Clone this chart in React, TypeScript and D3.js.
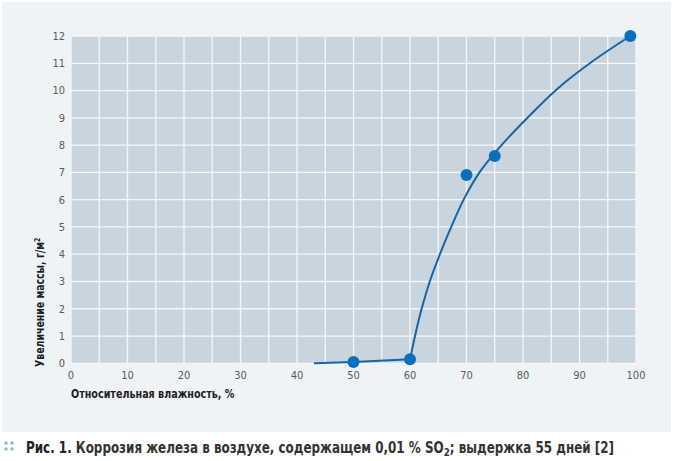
import React from 'react';
import * as d3 from 'd3';

// humidity %, mass gain g/m2 (measured points)
const pointX = [50, 60, 70, 75, 99];
const pointY = [0.05, 0.15, 6.9, 7.6, 12];

// fitted curve, flat part then rising part
const flatX = [43, 50, 60];
const flatY = [0.0, 0.05, 0.15];
const riseX = [60, 61, 62, 63.5, 65.3, 67.3, 69.5, 72.3, 76.2, 80.8, 86, 92.5, 99];
const riseY = [0.15, 1.1, 1.95, 3, 4, 5, 6, 7, 8, 9, 10.05, 11.1, 12];

const xTicks = [0, 10, 20, 30, 40, 50, 60, 70, 80, 90, 100];
const yTicks = [0, 1, 2, 3, 4, 5, 6, 7, 8, 9, 10, 11, 12];
const xGrid = d3.range(0, 101, 5);

const W = 673;
const H = 461;
const left = 71, right = 636, top = 36, bottom = 363.3;

const condensed = "'Liberation Sans Narrow', 'DejaVu Sans Condensed', Roboto, sans-serif";

const App: React.FC = () => {
  const x = d3.scaleLinear().domain([0, 100]).range([left, right]);
  const y = d3.scaleLinear().domain([0, 12]).range([bottom, top]);

  const lineLinear = d3.line<number>()
    .x((_, i) => x(flatX[i]))
    .y(d => y(d));
  const lineSmooth = d3.line<number>()
    .x((_, i) => x(riseX[i]))
    .y(d => y(d))
    .curve(d3.curveCatmullRom.alpha(0.5));

  return (
    <svg width={W} height={H} style={{ position: 'absolute', left: 0, top: 0, background: '#fff' }}>
      <rect x={2} y={2} width={669} height={430} fill="#eef3f6" />
      <rect x={left} y={top} width={right - left} height={bottom - top} fill="#c9d5de" />

      {xGrid.map(v => (
        <line key={'gx' + v} x1={x(v)} x2={x(v)} y1={top} y2={bottom} stroke="#f4f7f9" strokeWidth={1.3} />
      ))}
      {yTicks.map(v => (
        <line key={'gy' + v} x1={left} x2={right} y1={y(v)} y2={y(v)} stroke="#f4f7f9" strokeWidth={1.3} />
      ))}

      {yTicks.map(v => (
        <text key={'ty' + v} x={65} y={y(v)} dy="0.35em" textAnchor="end"
          fontFamily={condensed} fontSize={11} fill="#5a5a5a">
          {v}
        </text>
      ))}
      {xTicks.map(v => (
        <text key={'tx' + v} x={x(v)} y={379} textAnchor="middle"
          fontFamily={condensed} fontSize={11} fill="#5a5a5a">
          {v}
        </text>
      ))}

      <g transform="translate(71,398) scale(0.89,1)">
        <text x={0} y={0} fontFamily={condensed} fontSize={12} fontWeight="bold" fill="#1e1e1e">
          Относительная влажность, %
        </text>
      </g>
      <g transform="translate(44,367) rotate(-90) scale(0.87,1)">
        <text x={0} y={0} fontFamily={condensed} fontSize={12} fontWeight="bold" fill="#1e1e1e">
          Увеличение массы, г/м<tspan dy={-4} fontSize={8}>2</tspan>
        </text>
      </g>

      <path d={lineLinear(flatY) || ''} fill="none" stroke="#1565a6" strokeWidth={2} />
      <path d={lineSmooth(riseY) || ''} fill="none" stroke="#1565a6" strokeWidth={2} />

      {pointX.map((v, i) => (
        <circle key={'p' + i} cx={x(v)} cy={y(pointY[i])} r={6} fill="#0a6fbd" />
      ))}

      {/* caption */}
      {[[6, 443], [12, 443], [6, 449], [12, 449]].map(([cx, cy], i) => (
        <circle key={'d' + i} cx={cx} cy={cy} r={1.7} fill="#8fb3d4" />
      ))}
      <g transform="translate(26,453) scale(0.885,1)">
        <text x={0} y={0} fontFamily={condensed} fontSize={15} fontWeight="bold" fill="#222">
          Рис. 1.<tspan fill="#333"> Коррозия железа в воздухе, содержащем 0,01 % SO</tspan>
          <tspan dy={3} fontSize={11} fill="#333">2</tspan>
          <tspan dy={-3} fill="#333">; выдержка 55 дней [2]</tspan>
        </text>
      </g>
    </svg>
  );
};

export default App;
